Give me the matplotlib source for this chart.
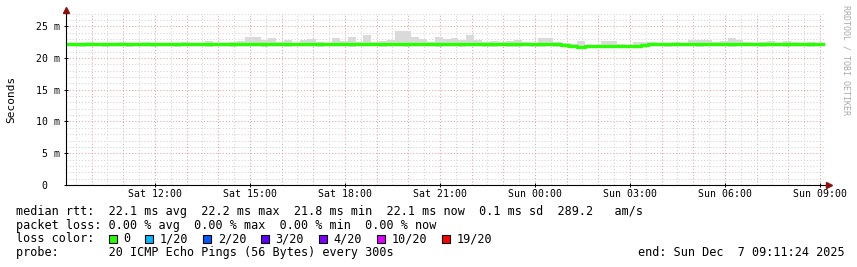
import matplotlib
matplotlib.use('Agg')
import matplotlib.pyplot as plt
import matplotlib.dates as mdates
from matplotlib.patches import Rectangle
from datetime import datetime, timedelta

# 15 minute bins, first bin starts Sat Dec 6 09:05
median = [22.2, 22.2, 22.15, 22.2, 22.2, 22.2, 22.2, 22.15, 22.2, 22.2,
          22.2, 22.2, 22.2, 22.2, 22.15, 22.2, 22.2, 22.2, 22.2, 22.2,
          22.2, 22.2, 22.2, 22.2, 22.2, 22.2, 22.2, 22.2, 22.15, 22.2,
          22.2, 22.2, 22.2, 22.2, 22.2, 22.2, 22.2, 22.2, 22.2, 22.2,
          22.2, 22.2, 22.2, 22.2, 22.2, 22.2, 22.2, 22.2, 22.2, 22.2,
          22.2, 22.2, 22.2, 22.15, 22.15, 22.15, 22.15, 22.15, 22.15, 22.15,
          22.15, 22.15, 22.15, 22.1, 21.85, 21.75, 21.85, 21.85, 21.85, 21.85,
          21.85, 21.85, 21.85, 22.05, 22.2, 22.2, 22.2, 22.2, 22.2, 22.2,
          22.2, 22.2, 22.2, 22.2, 22.2, 22.2, 22.2, 22.2, 22.2, 22.2,
          22.2, 22.2, 22.2, 22.2, 22.2, 22.2]
smoke_hi = [22.4, 22.4, 22.4, 22.5, 22.4, 22.4, 22.4, 22.5, 22.4, 22.4,
            22.5, 22.4, 22.4, 22.4, 22.4, 22.5, 22.4, 22.4, 22.7, 22.4,
            22.4, 22.5, 22.7, 23.3, 23.3, 22.8, 23.1, 22.5, 22.8, 22.4,
            22.8, 23.0, 22.5, 22.4, 23.2, 22.6, 23.3, 22.5, 23.6, 22.5,
            22.7, 22.8, 24.2, 24.2, 23.3, 23.0, 22.5, 23.3, 23.0, 23.1,
            22.9, 23.6, 22.9, 22.5, 22.7, 22.5, 22.6, 22.9, 22.5, 22.4,
            23.2, 23.2, 22.5, 22.4, 22.2, 22.6, 22.1, 22.1, 22.6, 22.6,
            22.2, 22.1, 22.5, 22.5, 22.5, 22.4, 22.4, 22.5, 22.4, 22.8,
            22.8, 22.8, 22.5, 22.6, 23.2, 22.8, 22.5, 22.4, 22.5, 22.6,
            22.4, 22.6, 22.5, 22.4, 22.5, 22.4]
smoke_lo = [21.9, 21.9, 21.8, 21.9, 21.9, 21.8, 21.9, 21.9, 21.8, 21.9,
            21.9, 21.8, 21.9, 21.9, 21.8, 21.9, 21.9, 21.9, 21.8, 21.9,
            21.9, 21.8, 21.9, 21.9, 21.9, 21.8, 21.9, 21.9, 21.8, 21.9,
            21.9, 21.9, 21.8, 21.9, 21.9, 21.9, 21.8, 21.9, 21.9, 21.9,
            21.8, 21.9, 21.9, 21.8, 21.9, 21.9, 21.9, 21.8, 21.9, 21.9,
            21.8, 21.9, 21.9, 21.8, 21.8, 21.9, 21.8, 21.8, 21.9, 21.8,
            21.8, 21.9, 21.8, 21.8, 21.6, 21.5, 21.6, 21.6, 21.6, 21.6,
            21.6, 21.6, 21.6, 21.8, 21.9, 21.9, 21.8, 21.9, 21.9, 21.9,
            21.8, 21.9, 21.9, 21.9, 21.8, 21.9, 21.9, 21.9, 21.8, 21.9,
            21.9, 21.8, 21.9, 21.9, 21.8, 21.9]

x_labels = ['Sat 12:00', 'Sat 15:00', 'Sat 18:00', 'Sat 21:00',
            'Sun 00:00', 'Sun 03:00', 'Sun 06:00', 'Sun 09:00']
x_label_times = [datetime(2025, 12, 6, 12), datetime(2025, 12, 6, 15),
                 datetime(2025, 12, 6, 18), datetime(2025, 12, 6, 21),
                 datetime(2025, 12, 7, 0), datetime(2025, 12, 7, 3),
                 datetime(2025, 12, 7, 6), datetime(2025, 12, 7, 9)]
y_ticks = [0, 5, 10, 15, 20, 25]
y_labels = ['0  ', '5 m', '10 m', '15 m', '20 m', '25 m']

rtt_line = 'median rtt:  22.1 ms avg  22.2 ms max  21.8 ms min  22.1 ms now  0.1 ms sd  289.2   am/s'
loss_line = 'packet loss: 0.00 % avg  0.00 % max  0.00 % min  0.00 % now'
loss_labels = ['0', '1/20', '2/20', '3/20', '4/20', '10/20', '19/20']
loss_colors = ['#26ff00', '#00b8ff', '#0059ff', '#5e00ff', '#7e00ff', '#dd00ff', '#ff0000']
probe_line = 'probe:       20 ICMP Echo Pings (56 Bytes) every 300s'
end_text = 'end: Sun Dec  7 09:11:24 2025'

plt.rcParams['font.family'] = 'DejaVu Sans Mono'

W, H = 857, 267
fig = plt.figure(figsize=(W / 100, H / 100), dpi=100)
ax = fig.add_axes([66 / W, (H - 185) / H, 760 / W, 171.5 / H])

t_start = datetime(2025, 12, 6, 9, 11, 24)
t_end = datetime(2025, 12, 7, 9, 11, 24)
t0 = datetime(2025, 12, 6, 9, 5)
edges = mdates.date2num([t0 + timedelta(minutes=15 * i) for i in range(len(median) + 1)])

# grid
g = datetime(2025, 12, 6, 9, 30)
while g < t_end:
    major = g.minute == 0
    ax.axvline(mdates.date2num(g), color='#eca0a0' if major else '#d2d2d2',
               lw=0.75, ls=(0, (1, 2)), zorder=1)
    g += timedelta(minutes=30)
for v in range(1, 28):
    ax.axhline(v, color='#eca0a0' if v % 5 == 0 else '#d2d2d2',
               lw=0.75, ls=(0, (1, 2)), zorder=1)

# smoke + median
ax.fill_between(edges, smoke_lo + [smoke_lo[-1]], smoke_hi + [smoke_hi[-1]],
                step='post', color='#dadada', lw=0, zorder=2)
ax.step(edges, median + [median[-1]], where='post', color='#26ff00', lw=2.4, zorder=3)

ax.set_xlim(mdates.date2num(t_start), mdates.date2num(t_end))
ax.set_ylim(0, 27)
ax.set_xticks(mdates.date2num(x_label_times), x_labels)
ax.set_yticks(y_ticks, y_labels)
ax.tick_params(axis='both', labelsize=7.1, direction='inout', length=3, width=0.7)
ax.tick_params(axis='y', pad=2.8)
ax.tick_params(axis='x', pad=1.5)
for s in ax.spines.values():
    s.set_visible(False)
ax.set_facecolor('white')

# axis lines with arrows
ax.plot([0, 0], [0, 1 + 4 / 171.5], color='black', lw=0.8, transform=ax.transAxes, clip_on=False, zorder=4)
ax.plot([0, 1 + 3 / 760], [0, 0], color='black', lw=0.8, transform=ax.transAxes, clip_on=False, zorder=4)
ax.plot([0], [1 + 4 / 171.5], marker='^', ms=4, color='#8b1010', transform=ax.transAxes, clip_on=False, zorder=5)
ax.plot([1 + 3 / 760], [0], marker='>', ms=4, color='#8b1010', transform=ax.transAxes, clip_on=False, zorder=5)

fig.text(11 / W, 1 - 99 / H, 'Seconds', rotation=90, ha='center', va='center', fontsize=8)
fig.text(846 / W, 1 - 60 / H, 'RRDTOOL / TOBI OETIKER', rotation=270, ha='center', va='center',
         fontsize=6, color='#aaaaaa')

fs = 8.5
fig.text(16 / W, 1 - 211.7 / H, rtt_line, ha='left', va='center', fontsize=fs)
fig.text(16 / W, 1 - 225.2 / H, loss_line, ha='left', va='center', fontsize=fs)
fig.text(16 / W, 1 - 239 / H, 'loss color:', ha='left', va='center', fontsize=fs)
fig.text(16 / W, 1 - 252.7 / H, probe_line, ha='left', va='center', fontsize=fs)
fig.text(638 / W, 1 - 252.7 / H, end_text, ha='left', va='center', fontsize=fs)

bx = 108.7
for lab, col in zip(loss_labels, loss_colors):
    fig.add_artist(Rectangle((bx / W, 1 - 243.3 / H), 8 / W, 8.5 / H, facecolor=col,
                             edgecolor='black', lw=0.8, transform=fig.transFigure))
    fig.text((bx + 14.7) / W, 1 - 239 / H, lab, ha='left', va='center', fontsize=fs)
    bx += (len(lab) + 4) * 7.25

fig.savefig('out.png', dpi=100)
